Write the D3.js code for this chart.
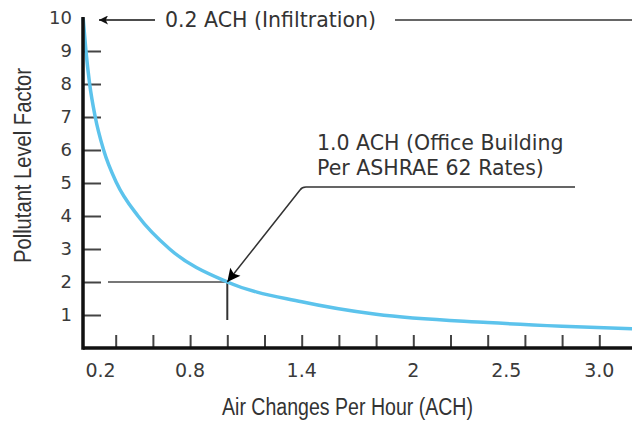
<!DOCTYPE html>
<html>
<head>
<meta charset="utf-8">
<script src="https://cdn.jsdelivr.net/npm/d3@7"></script>
<style>
  body { margin: 0; background: #fff; }
  svg { display: block; }
  .tick-label { font-family: "DejaVu Sans", Verdana, sans-serif; fill: #3a3a3a; }
  .note { font-family: "DejaVu Sans", Verdana, sans-serif; fill: #333; font-size: 20.5px; }
  .title { font-family: "Liberation Sans Narrow", "Liberation Sans", Arial, sans-serif; fill: #333; font-size: 23px; }
</style>
</head>
<body>
<div id="app"></div>
<script>
// values
const achValues = [0.225, 0.24, 0.26, 0.29, 0.335, 0.405, 0.52, 0.69, 1.0, 1.4, 1.8, 2.4, 2.8, 3.2];
const pollutantFactor = [10, 9, 8, 7, 6, 5, 4, 3, 2, 1.4, 1.02, 0.77, 0.66, 0.58];
const xTickValues = [0.4, 0.6, 0.8, 1.0, 1.2, 1.4, 1.6, 1.8, 2.0, 2.2, 2.4, 2.6, 2.8, 3.0];
const xLabelValues = [0.2, 0.8, 1.4, 2, 2.5, 3.0];
const xLabelText = ["0.2", "0.8", "1.4", "2", "2.5", "3.0"];
const yTickValues = [1, 2, 3, 4, 5, 6, 7, 8, 9];
const yLabelValues = [1, 2, 3, 4, 5, 6, 7, 8, 9, 10];
const officeAch = 1.0;
const officeFactor = 2;

const w = 632;
const h = 424;
const axisX = 83;
const axisY = 348;

const x = d3.scaleLinear().domain([0.2, 3.0]).range([78.5, 599.3]);
const y = d3.scaleLinear().domain([0, 10]).range([axisY, 18]);

const svg = d3.select("#app").append("svg").attr("width", w).attr("height", h);

const defs = svg.append("defs");
defs.append("marker")
  .attr("id", "arrow")
  .attr("viewBox", "0 0 10 10")
  .attr("refX", 10).attr("refY", 5)
  .attr("markerUnits", "userSpaceOnUse")
  .attr("markerWidth", 13).attr("markerHeight", 9)
  .attr("orient", "auto")
  .append("path").attr("d", "M0,0 L10,5 L0,10 L2.5,5 Z").attr("fill", "#111");
defs.append("marker")
  .attr("id", "arrowBig")
  .attr("viewBox", "0 0 10 10")
  .attr("refX", 10).attr("refY", 5)
  .attr("markerUnits", "userSpaceOnUse")
  .attr("markerWidth", 17).attr("markerHeight", 13)
  .attr("orient", "auto")
  .append("path").attr("d", "M0,0 L10,5 L0,10 L2,5 Z").attr("fill", "#000");

//x ticks (pointing up)
const xAxis = svg.append("g")
  .attr("transform", `translate(0,${axisY})`)
  .call(d3.axisBottom(x).tickValues(xTickValues).tickSize(-13).tickFormat(""));
xAxis.select(".domain").remove();
xAxis.selectAll(".tick line").attr("stroke", "#444").attr("stroke-width", 2);

//y ticks (pointing right)
const yAxis = svg.append("g")
  .attr("transform", `translate(${axisX},0)`)
  .call(d3.axisRight(y).tickValues(yTickValues).tickSize(18).tickFormat(""));
yAxis.select(".domain").remove();
yAxis.selectAll(".tick line").attr("stroke", "#444").attr("stroke-width", 2);

//reference lines at 1.0 ACH
svg.append("line")
  .attr("x1", 108).attr("x2", x(officeAch))
  .attr("y1", y(officeFactor)).attr("y2", y(officeFactor))
  .attr("stroke", "#777").attr("stroke-width", 2);
svg.append("line")
  .attr("x1", x(officeAch)).attr("x2", x(officeAch))
  .attr("y1", y(officeFactor)).attr("y2", 320)
  .attr("stroke", "#333").attr("stroke-width", 2);

//curve
const points = achValues.map((a, i) => [a, pollutantFactor[i]]);
svg.append("path")
  .datum(points)
  .attr("fill", "none")
  .attr("stroke", "#5cc3ec")
  .attr("stroke-width", 3.5)
  .attr("d", d3.line().x(d => x(d[0])).y(d => y(d[1])).curve(d3.curveMonotoneX));

//main axis lines
svg.append("line")
  .attr("x1", axisX).attr("x2", w)
  .attr("y1", axisY).attr("y2", axisY)
  .attr("stroke", "#111").attr("stroke-width", 3.5);
svg.append("line")
  .attr("x1", axisX).attr("x2", axisX)
  .attr("y1", y(10) - 1).attr("y2", axisY + 1.7)
  .attr("stroke", "#111").attr("stroke-width", 3.5);

//tick labels
svg.selectAll(".ylab")
  .data(yLabelValues)
  .enter()
  .append("text")
  .attr("class", "tick-label")
  .attr("x", 72)
  .attr("y", d => y(d))
  .attr("dy", "0.36em")
  .attr("text-anchor", "end")
  .attr("font-size", 18)
  .text(d => d);

svg.selectAll(".xlab")
  .data(xLabelValues)
  .enter()
  .append("text")
  .attr("class", "tick-label")
  .attr("x", (d, i) => x(d) + (i === 0 ? 22 : 0))
  .attr("y", 377)
  .attr("text-anchor", "middle")
  .attr("font-size", 19)
  .text((d, i) => xLabelText[i]);

//axis titles
svg.append("text")
  .attr("class", "title")
  .attr("x", 222)
  .attr("y", 415)
  .attr("textLength", 251)
  .attr("lengthAdjust", "spacingAndGlyphs")
  .text("Air Changes Per Hour (ACH)");

svg.append("text")
  .attr("class", "title")
  .attr("transform", "translate(31,263) rotate(-90)")
  .attr("textLength", 195)
  .attr("lengthAdjust", "spacingAndGlyphs")
  .text("Pollutant Level Factor");

//annotation: infiltration
svg.append("line")
  .attr("x1", 155).attr("x2", 99)
  .attr("y1", 20).attr("y2", 20)
  .attr("stroke", "#111").attr("stroke-width", 1.5)
  .attr("marker-end", "url(#arrow)");
svg.append("text")
  .attr("class", "note")
  .attr("x", 165)
  .attr("y", 27)
  .text("0.2 ACH (Infiltration)");
svg.append("line")
  .attr("x1", 395).attr("x2", w)
  .attr("y1", 20).attr("y2", 20)
  .attr("stroke", "#333").attr("stroke-width", 1.5);

//annotation: office building
svg.append("text")
  .attr("class", "note")
  .attr("x", 317)
  .attr("y", 150)
  .text("1.0 ACH (Office Building");
svg.append("text")
  .attr("class", "note")
  .attr("x", 317)
  .attr("y", 175)
  .text("Per ASHRAE 62 Rates)");
svg.append("path")
  .attr("d", `M575,187 L306,187 Q302,187 300,190 L${x(officeAch)},${y(officeFactor)}`)
  .attr("fill", "none")
  .attr("stroke", "#333").attr("stroke-width", 1.5)
  .attr("marker-end", "url(#arrowBig)");
</script>
</body>
</html>
